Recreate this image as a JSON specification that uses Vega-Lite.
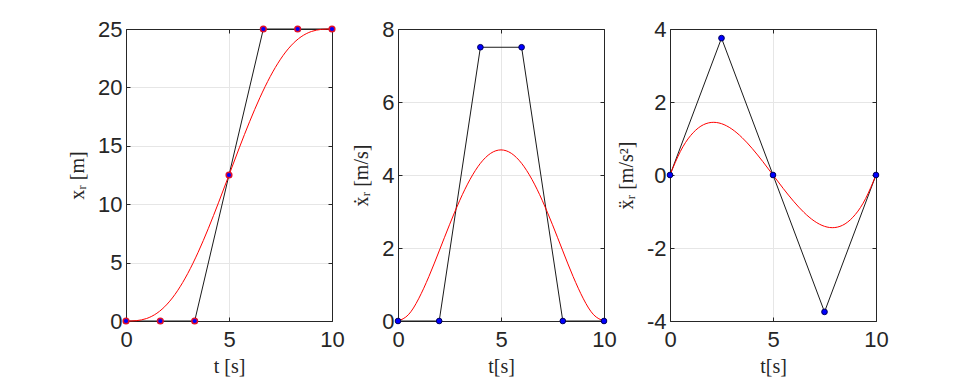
{
  "$schema": "https://vega.github.io/schema/vega-lite/v6.json",
  "background": "white",
  "padding": {"left": 67, "top": 18, "right": 5, "bottom": 5},
  "spacing": 66,
  "bounds": "flush",
  "datasets": {
    "pos_ctrl": [
      {"t": 0, "v": 0}, {"t": 1.6667, "v": 0}, {"t": 3.3333, "v": 0}, {"t": 5, "v": 12.5},
      {"t": 6.6667, "v": 25}, {"t": 8.3333, "v": 25}, {"t": 10, "v": 25}
    ],
    "vel_ctrl": [
      {"t": 0, "v": 0}, {"t": 2, "v": 0}, {"t": 4, "v": 7.5}, {"t": 6, "v": 7.5}, {"t": 8, "v": 0}, {"t": 10, "v": 0}
    ],
    "acc_ctrl": [
      {"t": 0, "v": 0}, {"t": 2.5, "v": 3.75}, {"t": 5, "v": 0}, {"t": 7.5, "v": -3.75}, {"t": 10, "v": 0}
    ],
    "pos_curve": [
      {"t": 0, "v": 0}, {"t": 0.5, "v": 0.02895}, {"t": 1, "v": 0.214}, {"t": 1.5, "v": 0.6653},
      {"t": 2, "v": 1.448}, {"t": 2.5, "v": 2.5879}, {"t": 3, "v": 4.077}, {"t": 3.5, "v": 5.8792},
      {"t": 4, "v": 7.936}, {"t": 4.5, "v": 10.1718}, {"t": 5, "v": 12.5}, {"t": 5.5, "v": 14.8282},
      {"t": 6, "v": 17.064}, {"t": 6.5, "v": 19.1208}, {"t": 7, "v": 20.923}, {"t": 7.5, "v": 22.4121},
      {"t": 8, "v": 23.552}, {"t": 8.5, "v": 24.3347}, {"t": 9, "v": 24.786}, {"t": 9.5, "v": 24.971},
      {"t": 10, "v": 25}
    ],
    "vel_curve": [
      {"t": 0, "v": 0}, {"t": 0.5, "v": 0.1692}, {"t": 1, "v": 0.6075}, {"t": 1.5, "v": 1.2192},
      {"t": 2, "v": 1.92}, {"t": 2.5, "v": 2.6367}, {"t": 3, "v": 3.3075}, {"t": 3.5, "v": 3.8817},
      {"t": 4, "v": 4.32}, {"t": 4.5, "v": 4.5942}, {"t": 5, "v": 4.6875}, {"t": 5.5, "v": 4.5942},
      {"t": 6, "v": 4.32}, {"t": 6.5, "v": 3.8817}, {"t": 7, "v": 3.3075}, {"t": 7.5, "v": 2.6367},
      {"t": 8, "v": 1.92}, {"t": 8.5, "v": 1.2192}, {"t": 9, "v": 0.6075}, {"t": 9.5, "v": 0.1692},
      {"t": 10, "v": 0}
    ],
    "acc_curve": [
      {"t": 0, "v": 0}, {"t": 0.5, "v": 0.6413}, {"t": 1, "v": 1.08}, {"t": 1.5, "v": 1.3388},
      {"t": 2, "v": 1.44}, {"t": 2.5, "v": 1.4063}, {"t": 3, "v": 1.26}, {"t": 3.5, "v": 1.0238},
      {"t": 4, "v": 0.72}, {"t": 4.5, "v": 0.3713}, {"t": 5, "v": 0}, {"t": 5.5, "v": -0.3713},
      {"t": 6, "v": -0.72}, {"t": 6.5, "v": -1.0238}, {"t": 7, "v": -1.26}, {"t": 7.5, "v": -1.4063},
      {"t": 8, "v": -1.44}, {"t": 8.5, "v": -1.3388}, {"t": 9, "v": -1.08}, {"t": 9.5, "v": -0.6413},
      {"t": 10, "v": 0}
    ]
  },
  "config": {
    "view": {"stroke": null},
    "axis": {
      "domain": true,
      "domainColor": "#262626",
      "domainWidth": 1,
      "grid": true,
      "gridColor": "#e6e6e6",
      "gridWidth": 1,
      "tickColor": "#262626",
      "tickSize": -4,
      "labelFont": "Liberation Sans",
      "labelFontSize": 22,
      "labelColor": "#262626",
      "labelPadding": 8,
      "labelFlush": false,
      "labelOverlap": false,
      "titleFont": "Liberation Serif",
      "titleFontSize": 20,
      "titleFontWeight": "normal",
      "titleColor": "#262626",
      "zindex": 1
    }
  },
  "hconcat": [
    {
      "width": 206, "height": 292,
      "resolve": {"axis": {"x": "independent", "y": "independent"}},
      "layer": [
        {
          "data": {"name": "pos_ctrl"},
          "mark": {"type": "line", "color": "#1a1a1a", "strokeWidth": 1},
          "encoding": {
            "x": {"field": "t", "type": "quantitative", "scale": {"domain": [0, 10], "nice": false}, "axis": {"values": [0, 5, 10], "title": "t  [s]", "labelPadding": 12, "titlePadding": 6}},
            "y": {"field": "v", "type": "quantitative", "scale": {"domain": [0, 25], "nice": false}, "axis": {"values": [0, 5, 10, 15, 20, 25], "title": "xᵣ  [m]", "titlePadding": 10}}
          }
        },
        {
          "data": {"name": "pos_curve"},
          "mark": {"type": "line", "color": "#ff0000", "strokeWidth": 1, "interpolate": "natural"},
          "encoding": {
            "x": {"field": "t", "type": "quantitative", "axis": {"orient": "top", "values": [0, 5, 10], "labels": false, "title": null, "grid": false}},
            "y": {"field": "v", "type": "quantitative", "axis": {"orient": "right", "values": [0, 5, 10, 15, 20, 25], "labels": false, "title": null, "grid": false}}
          }
        },
        {
          "data": {"name": "pos_ctrl"},
          "mark": {"type": "point", "filled": false, "fill": "#0000ff", "fillOpacity": 1, "stroke": "#e0102a", "strokeWidth": 1.5, "size": 32, "opacity": 1},
          "encoding": {
            "x": {"field": "t", "type": "quantitative", "axis": null},
            "y": {"field": "v", "type": "quantitative", "axis": null}
          }
        }
      ]
    },
    {
      "width": 206, "height": 292,
      "resolve": {"axis": {"x": "independent", "y": "independent"}},
      "layer": [
        {
          "data": {"name": "vel_ctrl"},
          "mark": {"type": "line", "color": "#1a1a1a", "strokeWidth": 1},
          "encoding": {
            "x": {"field": "t", "type": "quantitative", "scale": {"domain": [0, 10], "nice": false}, "axis": {"values": [0, 5, 10], "title": "t[s]", "labelPadding": 12, "titlePadding": 6}},
            "y": {"field": "v", "type": "quantitative", "scale": {"domain": [0, 8], "nice": false}, "axis": {"values": [0, 2, 4, 6, 8], "title": "ẋᵣ  [m/s]", "titlePadding": 10}}
          }
        },
        {
          "data": {"name": "vel_curve"},
          "mark": {"type": "line", "color": "#ff0000", "strokeWidth": 1, "interpolate": "natural"},
          "encoding": {
            "x": {"field": "t", "type": "quantitative", "axis": {"orient": "top", "values": [0, 5, 10], "labels": false, "title": null, "grid": false}},
            "y": {"field": "v", "type": "quantitative", "axis": {"orient": "right", "values": [0, 2, 4, 6, 8], "labels": false, "title": null, "grid": false}}
          }
        },
        {
          "data": {"name": "vel_ctrl"},
          "mark": {"type": "point", "filled": false, "fill": "#0000ff", "fillOpacity": 1, "stroke": "#00005a", "strokeWidth": 1, "size": 32, "opacity": 1},
          "encoding": {
            "x": {"field": "t", "type": "quantitative", "axis": null},
            "y": {"field": "v", "type": "quantitative", "axis": null}
          }
        }
      ]
    },
    {
      "width": 206, "height": 292,
      "resolve": {"axis": {"x": "independent", "y": "independent"}},
      "layer": [
        {
          "data": {"name": "acc_ctrl"},
          "mark": {"type": "line", "color": "#1a1a1a", "strokeWidth": 1},
          "encoding": {
            "x": {"field": "t", "type": "quantitative", "scale": {"domain": [0, 10], "nice": false}, "axis": {"values": [0, 5, 10], "title": "t[s]", "labelPadding": 12, "titlePadding": 6}},
            "y": {"field": "v", "type": "quantitative", "scale": {"domain": [-4, 4], "nice": false}, "axis": {"values": [-4, -2, 0, 2, 4], "labelExpr": "datum.value < 0 ? '-' + abs(datum.value) : '' + datum.value", "title": "ẍᵣ  [m/s²]", "titlePadding": 10}}
          }
        },
        {
          "data": {"name": "acc_curve"},
          "mark": {"type": "line", "color": "#ff0000", "strokeWidth": 1, "interpolate": "natural"},
          "encoding": {
            "x": {"field": "t", "type": "quantitative", "axis": {"orient": "top", "values": [0, 5, 10], "labels": false, "title": null, "grid": false}},
            "y": {"field": "v", "type": "quantitative", "axis": {"orient": "right", "values": [-4, -2, 0, 2, 4], "labels": false, "title": null, "grid": false}}
          }
        },
        {
          "data": {"name": "acc_ctrl"},
          "mark": {"type": "point", "filled": false, "fill": "#0000ff", "fillOpacity": 1, "stroke": "#00005a", "strokeWidth": 1, "size": 32, "opacity": 1},
          "encoding": {
            "x": {"field": "t", "type": "quantitative", "axis": null},
            "y": {"field": "v", "type": "quantitative", "axis": null}
          }
        }
      ]
    }
  ]
}
